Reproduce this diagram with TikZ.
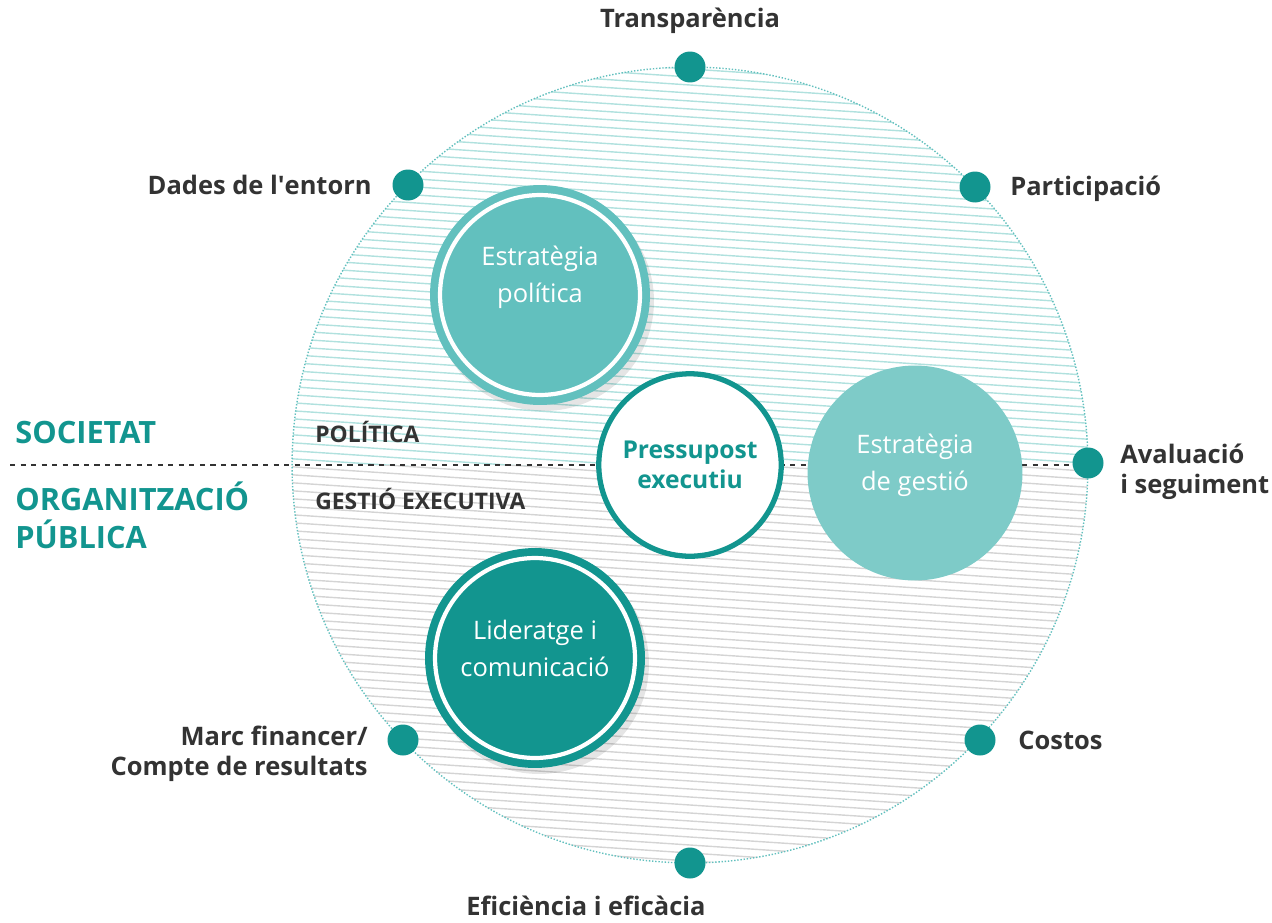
\documentclass[tikz,border=0pt]{standalone}
\usepackage{fontspec}
\setmainfont{Open Sans}
\definecolor{tealdark}{HTML}{12958F}
\definecolor{tealmid}{HTML}{62C0BE}
\definecolor{teallight}{HTML}{7ECBC8}
\definecolor{hatchteal}{HTML}{B0E1DE}
\definecolor{hatchgray}{HTML}{D4D4D4}
\definecolor{textdark}{HTML}{333333}
\begin{document}
\begin{tikzpicture}[x=0.02cm, y=-0.02cm,
	dot/.style={circle, fill=tealdark, minimum size=0.62cm, inner sep=0pt},
	lbl/.style={font=\bfseries\fontsize{14.5}{17}\selectfont, text=textdark, inner sep=0pt},
	area/.style={font=\bfseries\fontsize{17.5}{21.5}\selectfont, text=tealdark, inner sep=0pt, anchor=base west, align=left},
	level/.style={font=\bfseries\fontsize{13}{15}\selectfont, text=textdark, inner sep=0pt, anchor=base west},
	bubble/.style={circle, minimum size=4.4cm, inner sep=0pt},
	bubtext/.style={align=center, text=white, inner sep=0pt, font=\fontsize{14.5}{21}\selectfont},
	shade/.style={fill=black, opacity=0.10},
	ring/.style={draw=white, line width=2.4pt}]
\useasboundingbox (0,0) rectangle (1272,923);

% hatching of the big circle
\begin{scope}
	\clip (690,465) circle [radius=7.96cm];
	\begin{scope}
		\clip (280,50) rectangle (1100,465);
		\foreach \y in {-14,-6,...,470}
			\draw[hatchteal, line width=0.8pt] (280,\y) -- ++(820,54);
	\end{scope}
	\begin{scope}
		\clip (280,465) rectangle (1100,880);
		\foreach \y in {402,410,...,880}
			\draw[hatchgray, line width=0.8pt] (280,\y) -- ++(820,54);
	\end{scope}
\end{scope}
\draw[tealmid, densely dotted, line width=0.8pt] (690,465) circle [radius=7.96cm];

% divider
\coordinate (divl) at (10,465);
\coordinate (divr) at (1088,465);
\draw[textdark, dashed, line width=0.6pt] (divl) -- (divr);

% areas
\node[area] (soc) at (15,443) {SOCIETAT};
\node[area] (org) at (15,548) {ORGANITZACIÓ\\PÚBLICA};
\node[level] (pol-lbl) at (315,442) {POLÍTICA};
\node[level] (ges-lbl) at (315,509) {GESTIÓ EXECUTIVA};

% bubbles
\fill[shade] (544,301) circle [radius=2.2cm];
\node[bubble, fill=tealmid] (pol) at (540,295) {};
\draw[ring] (pol.center) circle [radius=2.0cm];
\node[bubtext] (pol-t) at (pol.center) [yshift=0.36cm] {Estratègia\\política};

\node[bubble, fill=teallight, minimum size=4.3cm] (ges) at (915,473) {};
\node[bubtext] (ges-t) at (ges.center) [yshift=0.16cm] {Estratègia\\de gestió};

\fill[shade] (539,664) circle [radius=2.2cm];
\node[bubble, fill=tealdark] (lid) at (535,658) {};
\draw[ring] (lid.center) circle [radius=2.0cm];
\node[bubtext] (lid-t) at (lid.center) [yshift=0.2cm] {Lideratge i\\comunicació};

\node[circle, fill=white, draw=tealdark, line width=3pt, minimum size=3.65cm, inner sep=0pt,
	align=center, text=tealdark, font=\bfseries\fontsize{14}{17}\selectfont] (pre) at (690,465) {Pressupost\\executiu};

% dots on the rim
\node[dot] (d-tra) at (690,67) {};
\node[dot] (d-dad) at (408,185) {};
\node[dot] (d-par) at (975,187) {};
\node[dot] (d-ava) at (1088,463) {};
\node[dot] (d-mar) at (403,740) {};
\node[dot] (d-cos) at (980,740) {};
\node[dot] (d-efi) at (690,863) {};

% labels
\node[lbl, anchor=south] (tra) at (690,34) {Transparència};
\node[lbl, anchor=east] (dad) at (372,185) {Dades de l\textquotesingle entorn};
\node[lbl, anchor=west] (par) at (1010,189) {Participació};
\node[lbl, anchor=west, align=left] (ava) at (1120,472) {Avaluació\\i seguiment};
\node[lbl, anchor=east, align=right] (mar) at (368,754) {Marc financer/\\Compte de resultats};
\node[lbl, anchor=west] (cos) at (1018,740) {Costos};
\node[lbl, anchor=base west] (efi) at (466,915) {Eficiència i eficàcia};
\end{tikzpicture}
\end{document}
